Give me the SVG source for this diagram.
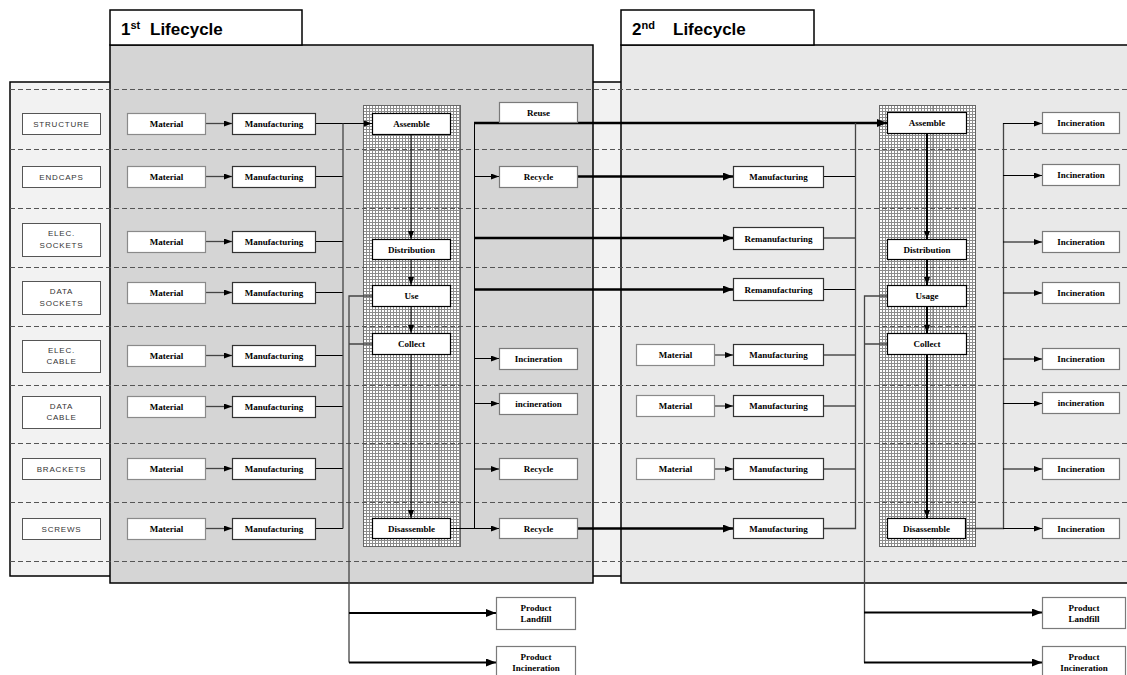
<svg xmlns="http://www.w3.org/2000/svg" width="1127" height="675" viewBox="0 0 1127 675">
  <style>
    .title { font-family: "Liberation Sans", Arial, sans-serif; font-weight: bold; font-size: 17px; fill: #000; }
    .lbl rect { fill: #fff; stroke: #555; stroke-width: 1; }
    .lbl text { font-family: "Liberation Sans", Arial, sans-serif; font-size: 8px; letter-spacing: 0.8px; fill: #333; text-anchor: middle; }
    .mat rect { fill: #fff; stroke: #8a8a8a; stroke-width: 1.2; }
    .mfg rect { fill: #fff; stroke: #333; stroke-width: 1.2; }
    .proc rect { fill: #fff; stroke: #000; stroke-width: 1.2; }
    .out rect { fill: #fff; stroke: #7a7a7a; stroke-width: 1.2; }
    .box text { font-family: "Liberation Serif", "Times New Roman", serif; font-weight: bold; font-size: 9px; fill: #000; text-anchor: middle; }
    .dash { stroke: #555; stroke-width: 1; stroke-dasharray: 5 3; fill: none; }
    .c { stroke: #000; stroke-width: 1; fill: none; }
    .cg { stroke: #444; stroke-width: 1.3; fill: none; }
    .thick { stroke: #000; stroke-width: 2.5; fill: none; }
    .mid { stroke: #000; stroke-width: 2; fill: none; }
  </style>
  <defs>
    <pattern id="mesh" width="3" height="3" patternUnits="userSpaceOnUse">
      <rect width="3" height="3" fill="#fff"/>
      <path d="M0,0.5H3M0.5,0V3" stroke="#8c8c8c" stroke-width="1"/>
    </pattern>
    <marker id="ah" viewBox="0 0 8 6" markerWidth="8" markerHeight="6" refX="8" refY="3" orient="auto" markerUnits="userSpaceOnUse">
      <path d="M0,0L8,3L0,6z" fill="#000"/>
    </marker>
    <marker id="ahb" viewBox="0 0 10 8" markerWidth="10" markerHeight="8" refX="10" refY="4" orient="auto" markerUnits="userSpaceOnUse">
      <path d="M0,0L10,4L0,8z" fill="#000"/>
    </marker>
  </defs>

  <rect width="1127" height="675" fill="#fff"/>

  <!-- component strip behind both lifecycles -->
  <rect x="10" y="82" width="1130" height="494" fill="#f2f2f2" stroke="#000" stroke-width="1.5"/>

  <!-- lifecycle panels -->
  <g id="lifecycle1">
    <rect x="110" y="45" width="483" height="538" fill="#d5d5d5" stroke="#000" stroke-width="1.5"/>
    <rect x="110" y="10" width="192" height="35" fill="#fff" stroke="#000" stroke-width="1.5"/>
    <text class="title" x="121" y="35">1<tspan font-size="11" dy="-6">st</tspan><tspan x="150" dy="6">Lifecycle</tspan></text>
  </g>
  <g id="lifecycle2">
    <rect x="621" y="45" width="520" height="538" fill="#e9e9e9" stroke="#000" stroke-width="1.5"/>
    <rect x="621" y="10" width="193" height="35" fill="#fff" stroke="#000" stroke-width="1.5"/>
    <text class="title" x="632" y="35">2<tspan font-size="11" dy="-6">nd</tspan><tspan x="673" dy="6">Lifecycle</tspan></text>
  </g>

  <!-- process columns -->
  <g id="column1">
    <rect x="363.5" y="105.5" width="97" height="441" fill="url(#mesh)" stroke="#666" stroke-width="1"/>
    <path d="M439,106V546" stroke="#777" stroke-width="1"/>
  </g>
  <g id="column2">
    <rect x="879.5" y="105.5" width="96" height="441" fill="url(#mesh)" stroke="#666" stroke-width="1"/>
    <path d="M933,106V546" stroke="#777" stroke-width="1"/>
  </g>

  <!-- row separators -->
  <g id="rows">
    <path class="dash" d="M10,89.5H1127M10,149.5H1127M10,208.5H1127M10,267.5H1127M10,326.5H1127M10,385.5H1127M10,443.5H1127M10,502.5H1127M10,561.5H1127"/>
  </g>

  <!-- connectors -->
  <g id="connectors">
    <!-- lifecycle 1: material to manufacturing -->
    <path class="cg" marker-end="url(#ah)" d="M205,123.5H232"/>
    <path class="cg" marker-end="url(#ah)" d="M205,176.5H232"/>
    <path class="cg" marker-end="url(#ah)" d="M205,241.5H232"/>
    <path class="cg" marker-end="url(#ah)" d="M205,292.5H232"/>
    <path class="cg" marker-end="url(#ah)" d="M205,355.5H232"/>
    <path class="cg" marker-end="url(#ah)" d="M205,406.5H232"/>
    <path class="cg" marker-end="url(#ah)" d="M205,468.5H232"/>
    <path class="cg" marker-end="url(#ah)" d="M205,528.5H232"/>
    <!-- manufacturing bus into assembly -->
    <path class="c" marker-end="url(#ah)" d="M315,123.5H372"/>
    <path class="c" d="M315,176.5H343M315,241.5H343M315,292.5H343M315,355.5H343M315,406.5H343M315,468.5H343M315,528.5H343"/>
    <path class="cg" d="M343,123.5V528.5"/>
    <!-- product flow down the column -->
    <path class="c" marker-end="url(#ah)" d="M411,134V239"/>
    <path class="c" marker-end="url(#ah)" d="M411,259V285"/>
    <path class="c" marker-end="url(#ah)" d="M411,306V333"/>
    <path class="c" marker-end="url(#ah)" d="M411,354V518"/>
    <!-- use / collect to end of life -->
    <path class="cg" d="M372,296H349V662.5M349,344H372"/>
    <path class="mid" marker-end="url(#ahb)" d="M349,613H496"/>
    <path class="mid" marker-end="url(#ahb)" d="M349,662.5H496"/>
    <!-- disassembly outputs -->
    <path class="c" d="M450,528.5H474M474.5,123V528.5"/>
    <path class="c" marker-end="url(#ah)" d="M474,176.5H499"/>
    <path class="c" marker-end="url(#ah)" d="M474,358.5H499"/>
    <path class="c" marker-end="url(#ah)" d="M474,403.5H499"/>
    <path class="c" marker-end="url(#ah)" d="M474,469H499"/>
    <path class="c" marker-end="url(#ah)" d="M474,528.5H499"/>
    <!-- flows into the second lifecycle -->
    <path class="thick" marker-end="url(#ahb)" d="M474,123H887"/>
    <path class="thick" marker-end="url(#ahb)" d="M474,238H733"/>
    <path class="thick" marker-end="url(#ahb)" d="M474,289.5H733"/>
    <path class="thick" marker-end="url(#ahb)" d="M577,176.5H733"/>
    <path class="thick" marker-end="url(#ahb)" d="M577,528.5H733"/>

    <!-- lifecycle 2: material to manufacturing -->
    <path class="cg" marker-end="url(#ah)" d="M714,355H733"/>
    <path class="cg" marker-end="url(#ah)" d="M714,406H733"/>
    <path class="cg" marker-end="url(#ah)" d="M714,469H733"/>
    <!-- manufacturing bus -->
    <path class="c" d="M823,176.5H855M823,238H855M823,289.5H855M823,355H855M823,406H855M823,469H855"/>
    <path class="cg" d="M823,528.5H855.5V123"/>
    <!-- product flow down the column -->
    <path class="mid" marker-end="url(#ah)" d="M927,134V239"/>
    <path class="mid" marker-end="url(#ah)" d="M927,259V285"/>
    <path class="mid" marker-end="url(#ah)" d="M927,306V333"/>
    <path class="mid" marker-end="url(#ah)" d="M927,354V518"/>
    <!-- usage / collect to end of life -->
    <path class="cg" d="M887,296H864.5V662.5M864,344H887"/>
    <path class="mid" marker-end="url(#ahb)" d="M864,612.5H1042"/>
    <path class="mid" marker-end="url(#ahb)" d="M864,662.5H1042"/>
    <!-- disassembly outputs -->
    <path class="cg" d="M966,528.5H1003.5V123"/>
    <path class="c" marker-end="url(#ah)" d="M1003,123.5H1042"/>
    <path class="c" marker-end="url(#ah)" d="M1003,175.5H1042"/>
    <path class="c" marker-end="url(#ah)" d="M1003,242H1042"/>
    <path class="c" marker-end="url(#ah)" d="M1003,293H1042"/>
    <path class="c" marker-end="url(#ah)" d="M1003,359H1042"/>
    <path class="c" marker-end="url(#ah)" d="M1003,403.5H1042"/>
    <path class="c" marker-end="url(#ah)" d="M1003,469H1042"/>
    <path class="c" marker-end="url(#ah)" d="M1003,528.5H1042"/>
  </g>

  <!-- component labels -->
  <g id="lbl-structure" class="lbl"><rect x="22.5" y="113.5" width="78" height="21"/><text x="61.5" y="127">STRUCTURE</text></g>
  <g id="lbl-endcaps" class="lbl"><rect x="22.5" y="166.5" width="78" height="21"/><text x="61.5" y="180">ENDCAPS</text></g>
  <g id="lbl-elec-sockets" class="lbl"><rect x="22.5" y="223.5" width="78" height="33"/><text x="61.5" y="236">ELEC.</text><text x="61.5" y="248">SOCKETS</text></g>
  <g id="lbl-data-sockets" class="lbl"><rect x="22.5" y="281.5" width="78" height="33"/><text x="61.5" y="294">DATA</text><text x="61.5" y="306">SOCKETS</text></g>
  <g id="lbl-elec-cable" class="lbl"><rect x="22.5" y="340.5" width="78" height="32"/><text x="61.5" y="353">ELEC.</text><text x="61.5" y="364">CABLE</text></g>
  <g id="lbl-data-cable" class="lbl"><rect x="22.5" y="396.5" width="78" height="32"/><text x="61.5" y="409">DATA</text><text x="61.5" y="420">CABLE</text></g>
  <g id="lbl-brackets" class="lbl"><rect x="22.5" y="458.5" width="78" height="21"/><text x="61.5" y="472">BRACKETS</text></g>
  <g id="lbl-screws" class="lbl"><rect x="22.5" y="518.5" width="78" height="21"/><text x="61.5" y="532">SCREWS</text></g>

  <!-- lifecycle 1: material -->
  <g id="l1-mat1" class="box mat"><rect x="127.5" y="113.5" width="78" height="21"/><text x="166.5" y="127">Material</text></g>
  <g id="l1-mat2" class="box mat"><rect x="127.5" y="166.5" width="78" height="21"/><text x="166.5" y="180">Material</text></g>
  <g id="l1-mat3" class="box mat"><rect x="127.5" y="231.5" width="78" height="21"/><text x="166.5" y="245">Material</text></g>
  <g id="l1-mat4" class="box mat"><rect x="127.5" y="282.5" width="78" height="21"/><text x="166.5" y="296">Material</text></g>
  <g id="l1-mat5" class="box mat"><rect x="127.5" y="345.5" width="78" height="21"/><text x="166.5" y="359">Material</text></g>
  <g id="l1-mat6" class="box mat"><rect x="127.5" y="396.5" width="78" height="21"/><text x="166.5" y="410">Material</text></g>
  <g id="l1-mat7" class="box mat"><rect x="127.5" y="458.5" width="78" height="21"/><text x="166.5" y="472">Material</text></g>
  <g id="l1-mat8" class="box mat"><rect x="127.5" y="518.5" width="78" height="21"/><text x="166.5" y="532">Material</text></g>

  <!-- lifecycle 1: manufacturing -->
  <g id="l1-mfg1" class="box mfg"><rect x="232.5" y="113.5" width="83" height="21"/><text x="274" y="127">Manufacturing</text></g>
  <g id="l1-mfg2" class="box mfg"><rect x="232.5" y="166.5" width="83" height="21"/><text x="274" y="180">Manufacturing</text></g>
  <g id="l1-mfg3" class="box mfg"><rect x="232.5" y="231.5" width="83" height="21"/><text x="274" y="245">Manufacturing</text></g>
  <g id="l1-mfg4" class="box mfg"><rect x="232.5" y="282.5" width="83" height="21"/><text x="274" y="296">Manufacturing</text></g>
  <g id="l1-mfg5" class="box mfg"><rect x="232.5" y="345.5" width="83" height="21"/><text x="274" y="359">Manufacturing</text></g>
  <g id="l1-mfg6" class="box mfg"><rect x="232.5" y="396.5" width="83" height="21"/><text x="274" y="410">Manufacturing</text></g>
  <g id="l1-mfg7" class="box mfg"><rect x="232.5" y="458.5" width="83" height="21"/><text x="274" y="472">Manufacturing</text></g>
  <g id="l1-mfg8" class="box mfg"><rect x="232.5" y="518.5" width="83" height="21"/><text x="274" y="532">Manufacturing</text></g>

  <!-- lifecycle 1: process column -->
  <g id="l1-assemble" class="box proc"><rect x="372.5" y="113.5" width="78" height="21"/><text x="411.5" y="127">Assemble</text></g>
  <g id="l1-distribution" class="box proc"><rect x="372.5" y="239.5" width="78" height="20"/><text x="411.5" y="252.5">Distribution</text></g>
  <g id="l1-use" class="box proc"><rect x="372.5" y="285.5" width="78" height="21"/><text x="411.5" y="299">Use</text></g>
  <g id="l1-collect" class="box proc"><rect x="372.5" y="333.5" width="78" height="21"/><text x="411.5" y="347">Collect</text></g>
  <g id="l1-disassemble" class="box proc"><rect x="372.5" y="518.5" width="78" height="20"/><text x="411.5" y="531.5">Disassemble</text></g>

  <!-- lifecycle 1: end of life -->
  <g id="l1-reuse" class="box out"><rect x="499.5" y="102.5" width="78" height="20"/><text x="538.5" y="115.5">Reuse</text></g>
  <g id="l1-recycle1" class="box out"><rect x="499.5" y="166.5" width="78" height="21"/><text x="538.5" y="180">Recycle</text></g>
  <g id="l1-incin1" class="box out"><rect x="499.5" y="348.5" width="78" height="21"/><text x="538.5" y="362">Incineration</text></g>
  <g id="l1-incin2" class="box out"><rect x="499.5" y="393.5" width="78" height="21"/><text x="538.5" y="407">incineration</text></g>
  <g id="l1-recycle2" class="box out"><rect x="499.5" y="458.5" width="78" height="21"/><text x="538.5" y="472">Recycle</text></g>
  <g id="l1-recycle3" class="box out"><rect x="499.5" y="518.5" width="78" height="20"/><text x="538.5" y="531.5">Recycle</text></g>
  <g id="l1-landfill" class="box out"><rect x="496.5" y="597.5" width="79" height="32"/><text x="536" y="611">Product</text><text x="536" y="622">Landfill</text></g>
  <g id="l1-product-incin" class="box out"><rect x="496.5" y="646.5" width="79" height="32"/><text x="536" y="660">Product</text><text x="536" y="671">Incineration</text></g>

  <!-- lifecycle 2: manufacturing inputs -->
  <g id="l2-mfg2" class="box mfg"><rect x="733.5" y="166.5" width="90" height="21"/><text x="778.5" y="180">Manufacturing</text></g>
  <g id="l2-reman3" class="box mfg"><rect x="733.5" y="227.5" width="90" height="22"/><text x="778.5" y="241.5">Remanufacturing</text></g>
  <g id="l2-reman4" class="box mfg"><rect x="733.5" y="278.5" width="90" height="22"/><text x="778.5" y="292.5">Remanufacturing</text></g>
  <g id="l2-mat5" class="box mat"><rect x="636.5" y="344.5" width="78" height="21"/><text x="675.5" y="358">Material</text></g>
  <g id="l2-mat6" class="box mat"><rect x="636.5" y="395.5" width="78" height="21"/><text x="675.5" y="409">Material</text></g>
  <g id="l2-mat7" class="box mat"><rect x="636.5" y="458.5" width="78" height="21"/><text x="675.5" y="472">Material</text></g>
  <g id="l2-mfg5" class="box mfg"><rect x="733.5" y="344.5" width="90" height="21"/><text x="778.5" y="358">Manufacturing</text></g>
  <g id="l2-mfg6" class="box mfg"><rect x="733.5" y="395.5" width="90" height="21"/><text x="778.5" y="409">Manufacturing</text></g>
  <g id="l2-mfg7" class="box mfg"><rect x="733.5" y="458.5" width="90" height="21"/><text x="778.5" y="472">Manufacturing</text></g>
  <g id="l2-mfg8" class="box mfg"><rect x="733.5" y="518.5" width="90" height="20"/><text x="778.5" y="531.5">Manufacturing</text></g>

  <!-- lifecycle 2: process column -->
  <g id="l2-assemble" class="box proc"><rect x="887.5" y="112.5" width="79" height="21"/><text x="927" y="126">Assemble</text></g>
  <g id="l2-distribution" class="box proc"><rect x="887.5" y="239.5" width="79" height="20"/><text x="927" y="252.5">Distribution</text></g>
  <g id="l2-usage" class="box proc"><rect x="887.5" y="285.5" width="79" height="21"/><text x="927" y="299">Usage</text></g>
  <g id="l2-collect" class="box proc"><rect x="887.5" y="333.5" width="79" height="21"/><text x="927" y="347">Collect</text></g>
  <g id="l2-disassemble" class="box proc"><rect x="887.5" y="518.5" width="78" height="20"/><text x="926.5" y="531.5">Disassemble</text></g>

  <!-- lifecycle 2: end of life -->
  <g id="l2-incin1" class="box out"><rect x="1042.5" y="112.5" width="77" height="21"/><text x="1081" y="126">Incineration</text></g>
  <g id="l2-incin2" class="box out"><rect x="1042.5" y="164.5" width="77" height="21"/><text x="1081" y="178">Incineration</text></g>
  <g id="l2-incin3" class="box out"><rect x="1042.5" y="231.5" width="77" height="21"/><text x="1081" y="245">Incineration</text></g>
  <g id="l2-incin4" class="box out"><rect x="1042.5" y="282.5" width="77" height="21"/><text x="1081" y="296">Incineration</text></g>
  <g id="l2-incin5" class="box out"><rect x="1042.5" y="348.5" width="77" height="21"/><text x="1081" y="362">Incineration</text></g>
  <g id="l2-incin6" class="box out"><rect x="1042.5" y="392.5" width="77" height="21"/><text x="1081" y="406">incineration</text></g>
  <g id="l2-incin7" class="box out"><rect x="1042.5" y="458.5" width="77" height="21"/><text x="1081" y="472">Incineration</text></g>
  <g id="l2-incin8" class="box out"><rect x="1042.5" y="518.5" width="77" height="20"/><text x="1081" y="531.5">Incineration</text></g>
  <g id="l2-landfill" class="box out"><rect x="1042.5" y="597.5" width="83" height="31"/><text x="1084" y="610.5">Product</text><text x="1084" y="621.5">Landfill</text></g>
  <g id="l2-product-incin" class="box out"><rect x="1042.5" y="646.5" width="83" height="32"/><text x="1084" y="660">Product</text><text x="1084" y="671">Incineration</text></g>
</svg>
